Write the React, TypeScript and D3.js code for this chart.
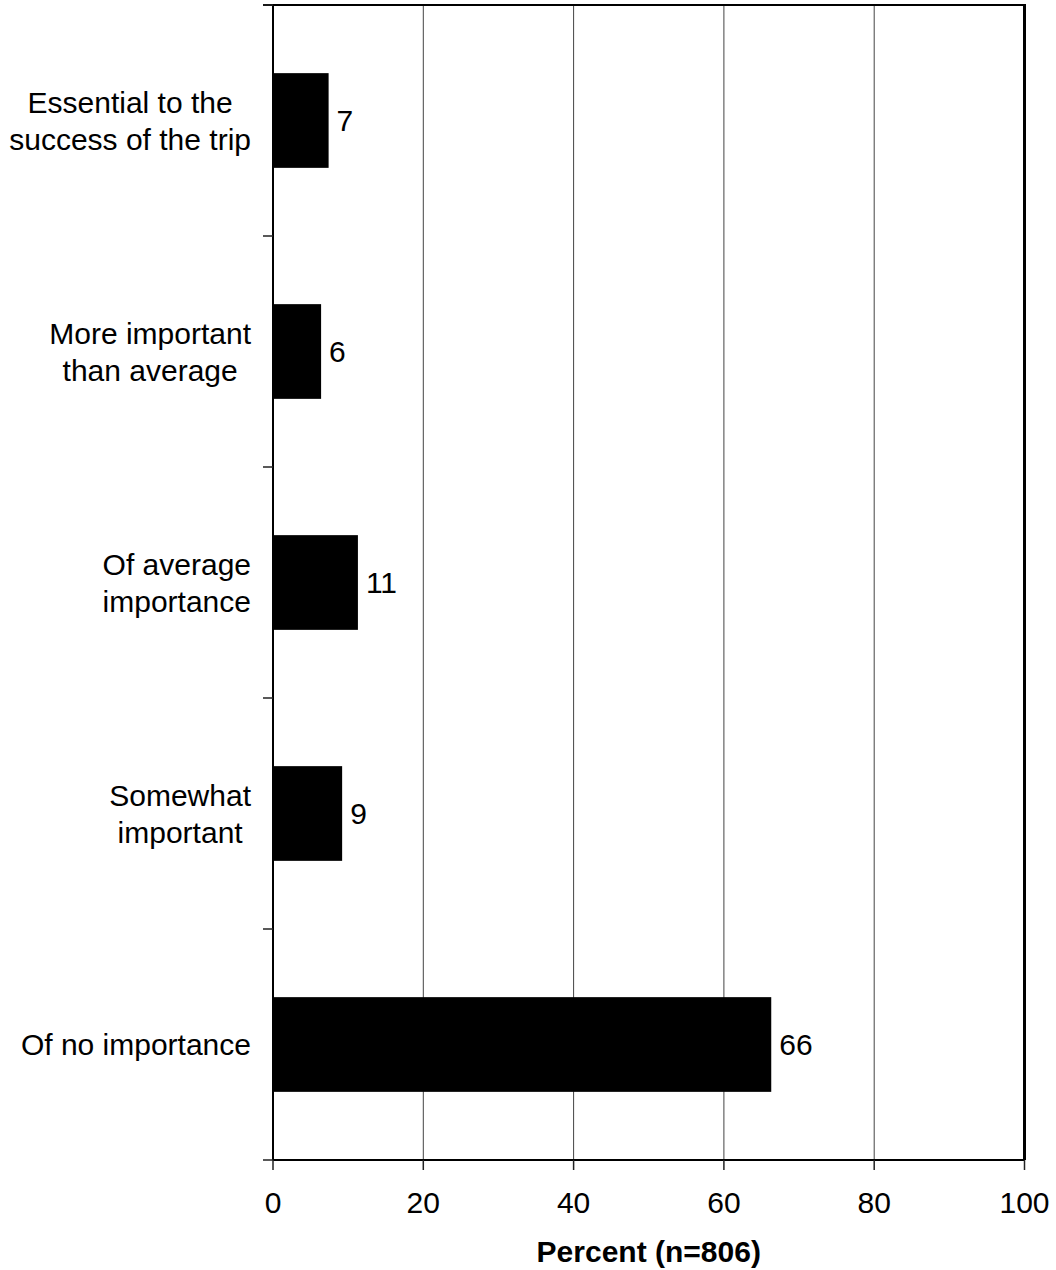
import React from "react";
import * as d3 from "d3";

const categories: string[][] = [
  ["Essential to the", "success of the trip"],
  ["More important", "than average"],
  ["Of average", "importance"],
  ["Somewhat", "important"],
  ["Of no importance"],
];
const values: number[] = [7.4, 6.4, 11.3, 9.2, 66.3];
const xTicks: number[] = [0, 20, 40, 60, 80, 100];
const xTitle = "Percent (n=806)";

const W = 1056;
const H = 1270;
const M = { left: 273, right: 1024.5, top: 5, bottom: 1160 };
const FONT = "'Liberation Sans', Arial, sans-serif";
const FS = 30;

function measure(text: string, weight = "normal"): number {
  const c = document.createElement("canvas");
  const ctx = c.getContext("2d")!;
  ctx.font = `${weight} ${FS}px ${FONT}`;
  return ctx.measureText(text).width;
}

export default function App() {
  const x = d3.scaleLinear().domain([0, 100]).range([M.left, M.right]);
  const idx = categories.map((_, i) => String(i));
  const y = d3
    .scaleBand<string>()
    .domain(idx)
    .range([M.top, M.bottom])
    .paddingInner(0.59)
    .paddingOuter(0.295);
  const yOuter = d3.scaleBand<string>().domain(idx).range([M.top, M.bottom]);
  const yTickPos = [...idx.map((d) => yOuter(d)!), M.bottom];

  return (
    <svg
      width={W}
      height={H}
      style={{ position: "absolute", left: 0, top: 0, background: "#fff" }}
      fontFamily={FONT}
    >
      {/* gridlines */}
      {xTicks.slice(1, -1).map((t) => (
        <line key={t} x1={x(t)} x2={x(t)} y1={M.top} y2={M.bottom} stroke="#444" strokeWidth={1} />
      ))}
      {/* bars */}
      {values.map((v, i) => (
        <rect
          key={i}
          x={x(0)}
          y={y(String(i))}
          width={x(v) - x(0)}
          height={y.bandwidth()}
          fill="#000"
        />
      ))}
      {/* value labels */}
      {values.map((v, i) => (
        <text
          key={i}
          x={x(v) + 8}
          y={y(String(i))! + y.bandwidth() / 2}
          dy="0.36em"
          fontSize={FS}
          fill="#000"
        >
          {Math.round(v)}
        </text>
      ))}
      {/* frame */}
      <line x1={M.left - 10} x2={M.right} y1={M.top} y2={M.top} stroke="#000" strokeWidth={2} />
      <line x1={M.right} x2={M.right} y1={M.top - 1} y2={M.bottom} stroke="#000" strokeWidth={3} />
      <line x1={M.left} x2={M.right} y1={M.bottom} y2={M.bottom} stroke="#000" strokeWidth={2} />
      <line x1={M.left} x2={M.left} y1={M.top} y2={M.bottom} stroke="#000" strokeWidth={2} />
      {/* y ticks */}
      {yTickPos.map((p, i) => (
        <line key={i} x1={M.left - 10} x2={M.left} y1={p} y2={p} stroke="#222" strokeWidth={1.5} />
      ))}
      {/* x ticks */}
      {xTicks.map((t) => (
        <g key={t}>
          <line x1={x(t)} x2={x(t)} y1={M.bottom} y2={M.bottom + 10} stroke="#222" strokeWidth={1.5} />
          <text x={x(t)} y={1213} textAnchor="middle" fontSize={FS} fill="#000">
            {t}
          </text>
        </g>
      ))}
      {/* category labels */}
      {categories.map((lines, i) => {
        const maxW = Math.max(...lines.map((l) => measure(l)));
        const cx = 251 - maxW / 2;
        const center = yOuter(String(i))! + yOuter.bandwidth() / 2;
        const lh = 37;
        const first = center - ((lines.length - 1) * lh) / 2;
        return (
          <text key={i} textAnchor="middle" fontSize={FS} fill="#000">
            {lines.map((l, j) => (
              <tspan key={j} x={cx} y={first + j * lh} dy="0.36em">
                {l}
              </tspan>
            ))}
          </text>
        );
      })}
      {/* axis title */}
      <text x={(M.left + M.right) / 2} y={1262} textAnchor="middle" fontSize={FS} fontWeight="bold" fill="#000">
        {xTitle}
      </text>
    </svg>
  );
}
